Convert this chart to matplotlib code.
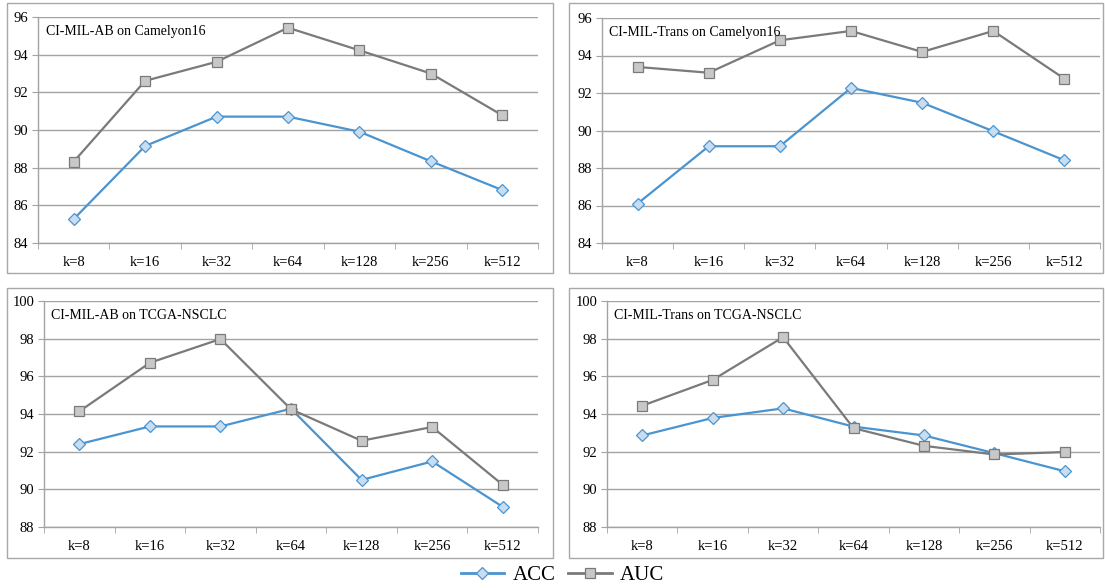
import matplotlib
matplotlib.use("Agg")
import matplotlib.pyplot as plt
from matplotlib.patches import Rectangle
from matplotlib.lines import Line2D

plt.rcParams["font.family"] = ["Liberation Serif", "DejaVu Serif"]

W, H = 1105, 588

k_labels = ["k=8", "k=16", "k=32", "k=64", "k=128", "k=256", "k=512"]

# accuracy / AUC for each k
ab_cam_acc = [85.27, 89.15, 90.71, 90.71, 89.91, 88.34, 86.81]
ab_cam_auc = [88.32, 92.61, 93.62, 95.43, 94.23, 93.00, 90.78]

trans_cam_acc = [86.10, 89.16, 89.16, 92.27, 91.48, 89.96, 88.41]
trans_cam_auc = [93.39, 93.08, 94.81, 95.31, 94.19, 95.31, 92.76]

ab_tcga_acc = [92.40, 93.34, 93.34, 94.28, 90.50, 91.48, 89.07]
ab_tcga_auc = [94.14, 96.72, 97.98, 94.25, 92.58, 93.31, 90.24]

trans_tcga_acc = [92.86, 93.79, 94.30, 93.33, 92.86, 91.92, 90.96]
trans_tcga_auc = [94.44, 95.81, 98.08, 93.25, 92.31, 91.85, 91.98]

ACC_LINE = "#4a94d0"
ACC_FILL = "#c9ddf1"
AUC_LINE = "#7a7a7a"
AUC_FILL = "#c8c8c8"
GRID = "#a3a3a3"
BOX = "#a8a8a8"

# (title, acc, auc, yticks, box px, axes px)
panels = [
    ("CI-MIL-AB on Camelyon16", ab_cam_acc, ab_cam_auc, [84, 86, 88, 90, 92, 94, 96],
     (7, 3, 553, 273), (38, 17, 538, 243)),
    ("CI-MIL-Trans on Camelyon16", trans_cam_acc, trans_cam_auc, [84, 86, 88, 90, 92, 94, 96],
     (569, 3, 1103, 273), (602, 18, 1100, 243)),
    ("CI-MIL-AB on TCGA-NSCLC", ab_tcga_acc, ab_tcga_auc, [88, 90, 92, 94, 96, 98, 100],
     (7, 288, 553, 558), (44, 301, 538, 527)),
    ("CI-MIL-Trans on TCGA-NSCLC", trans_tcga_acc, trans_tcga_auc, [88, 90, 92, 94, 96, 98, 100],
     (569, 288, 1103, 558), (607, 301, 1100, 527)),
]


def fig_rect(x0, y0, x1, y1):
    return [x0 / W, 1 - y1 / H, (x1 - x0) / W, (y1 - y0) / H]


fig = plt.figure(figsize=(W / 100, H / 100), dpi=100)

for title, acc, auc, yticks, box, area in panels:
    bx, by, bw, bh = fig_rect(*box)
    fig.patches.append(Rectangle((bx, by), bw, bh, transform=fig.transFigure,
                                 fill=False, edgecolor=BOX, linewidth=1.0))

    ax = fig.add_axes(fig_rect(*area))
    xs = list(range(len(k_labels)))
    ax.plot(xs, acc, color=ACC_LINE, lw=1.6, marker="D", ms=6,
            mfc=ACC_FILL, mec=ACC_LINE, mew=0.9, zorder=3)
    ax.plot(xs, auc, color=AUC_LINE, lw=1.6, marker="s", ms=7,
            mfc=AUC_FILL, mec=AUC_LINE, mew=0.9, zorder=3)

    ax.set_xlim(-0.5, len(k_labels) - 0.5)
    ax.set_ylim(yticks[0], yticks[-1])
    ax.set_yticks(yticks)
    ax.set_xticks(xs)
    ax.set_xticklabels(k_labels)
    ax.set_xticks([x - 0.5 for x in range(len(k_labels) + 1)], minor=True)
    ax.tick_params(axis="x", which="major", length=0, pad=9, labelsize=10.5)
    ax.tick_params(axis="x", which="minor", length=4, direction="out", color=GRID)
    ax.tick_params(axis="y", length=4, direction="out", color=GRID, pad=3, labelsize=10.5)
    ax.grid(axis="y", color=GRID, lw=1.0)
    ax.set_axisbelow(True)
    for side in ("top", "right"):
        ax.spines[side].set_visible(False)
    for side in ("left", "bottom"):
        ax.spines[side].set_color(GRID)
        ax.spines[side].set_linewidth(1.0)
    ax.text(0.015, 0.965, title, transform=ax.transAxes, ha="left", va="top", fontsize=10)

handles = [
    Line2D([], [], color=ACC_LINE, lw=2.0, marker="D", ms=6, mfc=ACC_FILL, mec=ACC_LINE, mew=0.9),
    Line2D([], [], color=AUC_LINE, lw=2.0, marker="s", ms=7, mfc=AUC_FILL, mec=AUC_LINE, mew=0.9),
]
fig.legend(handles, ["ACC", "AUC"], loc="center", bbox_to_anchor=(0.509, 1 - 575 / H),
           ncol=2, frameon=False, fontsize=15, handlelength=2.1, handletextpad=0.4,
           columnspacing=0.6, borderpad=0)

fig.savefig("out.png", dpi=100)
